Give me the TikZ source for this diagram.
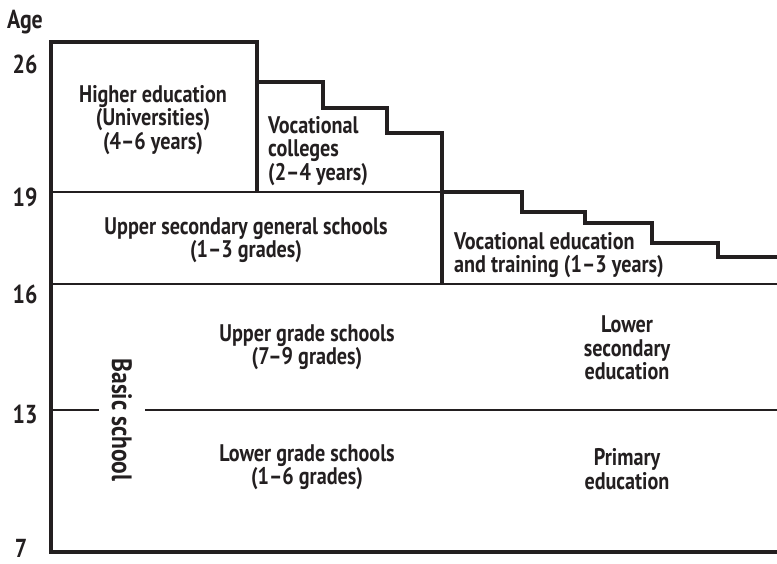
\documentclass[tikz,border=0pt]{standalone}
\usepackage{fontspec}
\setmainfont[FakeStretch=0.84]{PT Sans}
\definecolor{ink}{HTML}{231F20}
\begin{document}
\begin{tikzpicture}[x=1pt,y=-1pt,
  outline/.style={draw=ink,line width=3.6pt,line join=miter},
  inner/.style={draw=ink,line width=2.8pt},
  lbl/.style={text=ink,font=\bfseries\fontsize{24}{23.5}\selectfont,inner sep=0pt,align=center},
  lbll/.style={lbl,align=left},
  age/.style={text=ink,font=\bfseries\fontsize{26}{26}\selectfont,inner sep=0pt}]
\useasboundingbox (0,0) rectangle (777,563);
% outer frame
\draw[outline] (777,552) -- (51,552) -- (51,42) -- (257,42) -- (257,192);
% vocational colleges staircase
\draw[outline] (257,82) -- (323,82) -- (323,108) -- (387,108) -- (387,133) -- (442,133) -- (442,284);
% vocational training staircase
\draw[outline] (442,192) -- (522,192) -- (522,212) -- (585,212) -- (585,223) -- (652,223) -- (652,243) -- (718,243) -- (718,257) -- (777,257);
% horizontal lines
\draw[inner] (51,192) -- (442,192);
\draw[inner] (51,284) -- (777,284);
\draw[inner] (51,410) -- (99,410);
\draw[inner] (145,410) -- (777,410);
% age labels
\node[age] (ageL) at (25,22) {Age};
\node[age] (a26) at (25,64) {26};
\node[age] (a19) at (25,197) {19};
\node[age] (a16) at (25,294) {16};
\node[age] (a13) at (25,414) {13};
\node[age,anchor=base] (a7) at (21,557) {7};
% texts
\node[lbl] (higher) at (153,120) {Higher education\\(Universities)\\(4–6 years)};
\node[lbll,anchor=west] (voccol) at (268,151) {Vocational\\colleges\\(2–4 years)};
\node[lbl] (uppersec) at (246,240) {Upper secondary general schools\\(1–3 grades)};
\node[lbll,anchor=west] (vocedu) at (454,255) {Vocational education\\and training (1–3 years)};
\node[lbl] (uppergrade) at (307,347) {Upper grade schools\\(7–9 grades)};
\node[lbl] (lowersec) at (627,348) {Lower\\secondary\\education};
\node[lbl] (lowergrade) at (307,467) {Lower grade schools\\(1–6 grades)};
\node[lbl] (primary) at (627,469) {Primary\\education};
\node[lbl,rotate=-90,font=\bfseries\fontsize{28}{28}\selectfont] (basic) at (122,420) {Basic school};
\end{tikzpicture}
\end{document}
